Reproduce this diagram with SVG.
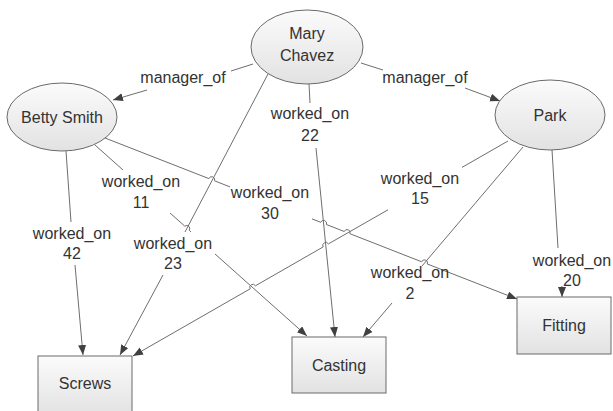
<svg xmlns="http://www.w3.org/2000/svg" width="613" height="411" viewBox="0 0 613 411">
<defs>
<linearGradient id="g" x1="0" y1="0" x2="0" y2="1">
<stop offset="0" stop-color="#fbfbfb"/>
<stop offset="1" stop-color="#e2e2e2"/>
</linearGradient>
<marker id="arr" markerUnits="userSpaceOnUse" markerWidth="12" markerHeight="10" refX="10" refY="4" orient="auto">
<path d="M0,0 L10,4 L0,8 Z" fill="#404040"/>
</marker>
<style>
.n{fill:url(#g);stroke:#6a6a6a;stroke-width:1}
.c{fill:none;stroke:#6e6e6e;stroke-width:1}
.a{marker-end:url(#arr)}
text{font-family:"Liberation Sans",Arial,sans-serif;font-size:16px;fill:#333;text-anchor:middle}
</style>
</defs>
<rect width="613" height="411" fill="#fff"/>
<g id="connectors">
<path class="c" d="M253,64 L231,71"/>
<path class="c a" d="M147,90 L113,100"/>
<path class="c" d="M361,63 L383,70"/>
<path class="c a" d="M465,88 L500,101"/>
<path class="c" d="M309,84 L310,103"/>
<path class="c a" d="M316,148 L335,337"/>
<path class="c" d="M268,74 L185,232"/>
<path class="c a" d="M163,275 L120,355"/>
<path class="c" d="M95,145 L123,170"/>
<path class="c" d="M170,213 L184.8,226.2 A3,3 0 0 1 189.2,230.2 L191,232"/>
<path class="c a" d="M215,254 L307,336"/>
<path class="c" d="M105,138 L208.9,178.6 A3,3 0 0 1 214.5,180.8 L230,186.9"/>
<path class="c a" d="M312,218.9 L320.8,222.3 A3,3 0 0 1 326.4,224.5 L344.3,231.5 A3,3 0 0 1 349.9,233.7 L421.7,261.8 A3,3 0 0 1 427.3,264 L517,299"/>
<path class="c" d="M508,141 L462,167.4"/>
<path class="c a" d="M388,209.8 L328.4,243.9 A3,3 0 0 0 323.2,246.9 L255.4,285.8 A3,3 0 0 0 250.2,288.8 L133,356"/>
<path class="c" d="M523,147 L422,266"/>
<path class="c a" d="M392,303 L363,337"/>
<path class="c" d="M66,151 L71,222"/>
<path class="c a" d="M75,265 L83,355"/>
<path class="c" d="M552,150 L558,248"/>
<path class="c a" d="M562,286 L562,297"/>
</g>
<g id="labels">
<text x="183" y="83">manager_of</text>
<text x="425" y="83">manager_of</text>
<text x="310" y="119">worked_on</text><text x="310" y="141">22</text>
<text x="141" y="187">worked_on</text><text x="141" y="208">11</text>
<text x="270" y="198">worked_on</text><text x="270" y="219">30</text>
<text x="420" y="184">worked_on</text><text x="420" y="204">15</text>
<text x="72" y="239">worked_on</text><text x="72" y="259">42</text>
<text x="173" y="249">worked_on</text><text x="173" y="269">23</text>
<text x="410" y="278">worked_on</text><text x="410" y="299">2</text>
<text x="572" y="266">worked_on</text><text x="572" y="286">20</text>
</g>
<g id="mary">
<ellipse class="n" cx="307" cy="47" rx="56" ry="37"/>
<text x="307" y="39">Mary</text><text x="307" y="61">Chavez</text>
</g>
<g id="betty">
<ellipse class="n" cx="62" cy="117" rx="55" ry="34"/>
<text x="62" y="123">Betty Smith</text>
</g>
<g id="park">
<ellipse class="n" cx="550" cy="115" rx="55" ry="35"/>
<text x="550" y="121">Park</text>
</g>
<g id="screws">
<rect class="n" x="38" y="356" width="94" height="60"/>
<text x="85" y="389">Screws</text>
</g>
<g id="casting">
<rect class="n" x="292" y="337" width="94" height="56"/>
<text x="339" y="371">Casting</text>
</g>
<g id="fitting">
<rect class="n" x="517" y="297" width="94" height="57"/>
<text x="564" y="331">Fitting</text>
</g>
</svg>
